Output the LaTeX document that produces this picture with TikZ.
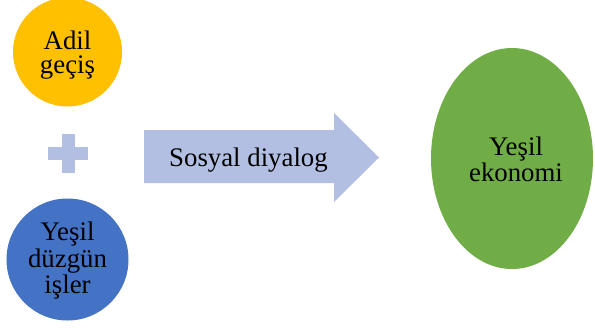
\documentclass[tikz,border=0pt]{standalone}
\usepackage{fontspec}
\setmainfont{Liberation Serif}
\definecolor{cyellow}{HTML}{FFC000}
\definecolor{cblue}{HTML}{4472C4}
\definecolor{cgreen}{HTML}{70AD47}
\definecolor{carrow}{HTML}{B3BFE2}
\begin{document}
\begin{tikzpicture}[x=1bp,y=-1bp,
  lbl/.style={align=center,inner sep=0pt,font=\fontsize{26.8bp}{#1}\selectfont,text=black},
  lbl/.default=25.5bp,
  blob/.style={inner sep=0pt,draw=none}]
\useasboundingbox (0,0) rectangle (595,327);
% yellow circle
\node[blob,circle,fill=cyellow,minimum size=109bp] (adil) at (67.5,52) {};
\node[lbl=24.5bp] (adilt) at (67.5,55) {Adil\\geçiş};
% plus
\fill[carrow] (48,147) rectangle (88,160);
\fill[carrow] (61.5,134) rectangle (74.5,173);
\coordinate (plus) at (68,153.5);
% blue circle
\node[blob,circle,fill=cblue,minimum size=122bp] (isler) at (67.5,259.5) {};
\node[lbl=26.5bp] (islert) at (67.5,261) {Yeşil\\düzgün\\işler};
% arrow
\fill[carrow] (144,130) -- (334,130) -- (334,113) -- (379,157.5) -- (334,202) -- (334,183) -- (144,183) -- cycle;
\node[lbl] (diyalog) at (248.5,160) {Sosyal diyalog};
% green ellipse
\fill[cgreen] (512,158.5) ellipse[x radius=81,y radius=110.5];
\coordinate (eko) at (512,158.5);
\node[lbl=26bp] (ekot) at (516,159) {Yeşil\\ekonomi};
\end{tikzpicture}
\end{document}
